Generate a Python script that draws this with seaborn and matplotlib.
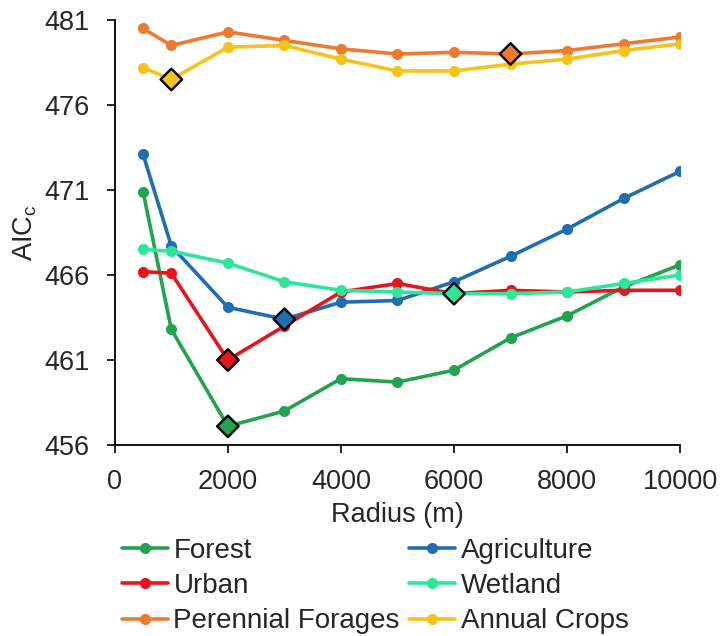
import numpy as np
import pandas as pd
import matplotlib
matplotlib.use("Agg")
import matplotlib.pyplot as plt
import seaborn as sns

# radius values (m) and AICc per land cover type
radius = [500, 1000, 2000, 3000, 4000, 5000, 6000, 7000, 8000, 9000, 10000]
forest = [470.9, 462.8, 457.1, 458.0, 459.9, 459.7, 460.4, 462.3, 463.6, 465.3, 466.6]
agriculture = [473.1, 467.7, 464.1, 463.4, 464.4, 464.5, 465.6, 467.1, 468.7, 470.5, 472.1]
urban = [466.2, 466.1, 461.0, 463.0, 465.0, 465.5, 464.9, 465.1, 465.0, 465.1, 465.1]
wetland = [467.5, 467.4, 466.7, 465.6, 465.1, 465.0, 464.9, 464.9, 465.0, 465.5, 466.0]
perennial = [480.5, 479.5, 480.3, 479.8, 479.3, 479.0, 479.1, 479.0, 479.2, 479.6, 480.0]
annual = [478.2, 477.5, 479.4, 479.5, 478.7, 478.0, 478.0, 478.4, 478.7, 479.2, 479.6]

covers = ["Forest", "Agriculture", "Urban", "Wetland", "Perennial Forages", "Annual Crops"]
best_radius = [2000, 3000, 2000, 6000, 7000, 1000]  # lowest-AICc radius, shown as diamonds
colors = ["#22a34f", "#1f6db3", "#e4161c", "#2ee69a", "#ee7a30", "#f7c21a"]

series = [forest, agriculture, urban, wetland, perennial, annual]
df = pd.DataFrame({
    "Radius": radius * len(covers),
    "AIC": np.concatenate(series),
    "Cover": np.repeat(covers, len(radius)),
})
best = df[[r == best_radius[covers.index(c)] for r, c in zip(df.Radius, df.Cover)]]

sns.set_style("ticks")
plt.rcParams["font.family"] = ["Liberation Sans", "DejaVu Sans"]
plt.rcParams["mathtext.fontset"] = "custom"
plt.rcParams["mathtext.rm"] = "Liberation Sans"

pal = dict(zip(covers, colors))
fig = plt.figure(figsize=(7.22, 6.36), dpi=100)
ax = fig.add_axes([0.159, 0.3003, 0.783, 0.6683])

sns.lineplot(data=df, x="Radius", y="AIC", hue="Cover", hue_order=covers, palette=pal,
             marker="o", markersize=8, markeredgewidth=0, linewidth=2.6, legend=False, ax=ax)
sns.scatterplot(data=best, x="Radius", y="AIC", hue="Cover", hue_order=covers, palette=pal,
                marker="D", s=120, edgecolor="black", linewidth=1.7, legend=False, zorder=5, ax=ax)

ax.set_xlim(0, 10000)
ax.set_ylim(456, 481)
ax.set_xticks(range(0, 10001, 2000))
ax.set_yticks(range(456, 482, 5))
ax.tick_params(labelsize=19.5, length=6, width=1.2, color="black")
ax.tick_params(axis="y", pad=12)
ax.tick_params(axis="x", pad=11)
for s in ["left", "bottom"]:
    ax.spines[s].set_linewidth(1.3)
    ax.spines[s].set_color("black")
sns.despine(ax=ax)
ax.set_xlabel("Radius (m)", fontsize=19.5, labelpad=5)
ax.set_ylabel(r"AIC$_\mathregular{c}$", fontsize=19.5, labelpad=4)

# legend filled column-wise: left column Forest/Urban/Perennial, right column the rest
lines = ax.get_lines()[:len(covers)]
order = [0, 2, 4, 1, 3, 5]
fig.legend([lines[i] for i in order], [covers[i] for i in order], ncol=2,
           loc="upper left", bbox_to_anchor=(122 / 722, 1 - 538 / 636),
           frameon=False, fontsize=20, handlelength=1.65, handletextpad=0.2,
           columnspacing=0.35, labelspacing=0.33, borderaxespad=0, borderpad=0)

fig.savefig("out.png", dpi=100)
